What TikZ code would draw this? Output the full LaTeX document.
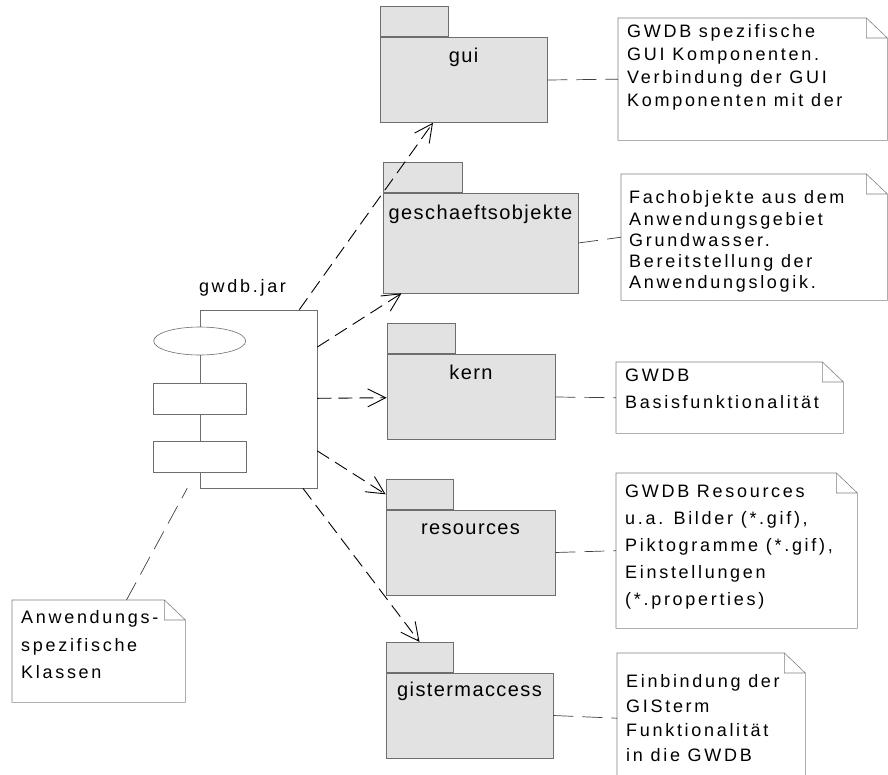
\documentclass[tikz,border=0pt]{standalone}
\usepackage{fontspec}
\setmainfont{Liberation Sans}
\newfontfamily\pkgfont{Liberation Sans}[LetterSpace=7]
\newfontfamily\notefont{Liberation Sans}[LetterSpace=15]
\usepackage{xcolor}
\usepackage{tikz}
\usetikzlibrary{shapes,arrows,arrows.meta,positioning}
\definecolor{pkgfill}{RGB}{226,226,226}
\definecolor{edge}{RGB}{110,110,110}
\definecolor{noteedge}{RGB}{130,130,130}
\newcommand{\nfont}[1]{\notefont\fontsize{18}{#1}\selectfont}

\tikzset{
    pkg/.style={rectangle, draw=edge, fill=pkgfill, line width=.7pt, minimum height=85pt, inner sep=0pt},
    pkgtab/.style={pkg, minimum width=67pt, minimum height=30pt, anchor=south west},
    pkgname/.style={anchor=base, inner sep=0pt, font=\pkgfont\fontsize{20}{24}\selectfont},
    part/.style={draw=edge, fill=white, line width=.6pt, inner sep=0pt},
    notebox/.style={rectangle, anchor=north west, inner sep=0pt,
        append after command={\pgfextra{\draw[draw=noteedge, line width=.6pt]
            (\tikzlastnode.north west) -- ([xshift=-21pt]\tikzlastnode.north east)
            -- ([yshift=-20pt]\tikzlastnode.north east) -- (\tikzlastnode.south east)
            -- (\tikzlastnode.south west) -- cycle
            ([xshift=-21pt]\tikzlastnode.north east) |- ([yshift=-20pt]\tikzlastnode.north east);}}},
    notetext/.style={anchor=north west, inner sep=0pt, align=left},
    dep/.style={draw=black, line width=.9pt, dash pattern=on 14pt off 7pt, -{Straight Barb[length=18pt,width=18pt]}},
    noteline/.style={draw=black!75, line width=.7pt, dash pattern=on 20pt off 9pt}
}

\begin{document}
\begin{tikzpicture}[x=1pt, y=-1pt]
    \path[use as bounding box, fill=white] (0,0) rectangle (888,774);

    \node[part, draw=none, fill=none, minimum width=163pt, minimum height=178pt] (comp) at (235.5,399) {};
    \node[anchor=base, inner sep=0pt, font=\nfont{20}] (jarName) at ([xshift=7pt, yshift=17pt]comp.north) {gwdb.jar};
    \node[part, fill=none, anchor=north east, minimum width=117pt, minimum height=178pt] (jar) at (comp.north east) {};
    \node[part, ellipse, minimum width=92pt, minimum height=28pt, below=17pt of jar.north west] (jarOval) {};
    \node[part, minimum width=93pt, minimum height=31pt, below=28pt of jarOval] (jarBoxA) {};
    \node[part, minimum width=93pt, minimum height=31pt, below=26pt of jarBoxA] (jarBoxB) {};

    \node[pkg, minimum width=167pt] (gui) at (463.5,80) {};
    \node[pkgtab, minimum width=68pt] (guiTab) at (gui.north west) {};
    \node[pkgname] (guiName) at ([yshift=-25pt]gui.north) {gui};

    \node[pkg, minimum width=195pt, minimum height=100pt] (geo) at (480.5,243) {};
    \node[pkgtab, minimum width=79pt] (geoTab) at (geo.north west) {};
    \node[pkgname] (geoName) at ([yshift=-27pt]geo.north) {geschaeftsobjekte};

    \node[pkg, minimum width=168pt] (kern) at (471,397) {};
    \node[pkgtab, minimum width=68pt] (kernTab) at (kern.north west) {};
    \node[pkgname] (kernName) at ([yshift=-25pt]kern.north) {kern};

    \node[pkg, minimum width=169pt] (res) at (470.5,552.5) {};
    \node[pkgtab] (resTab) at (res.north west) {};
    \node[pkgname] (resName) at ([yshift=-25pt]res.north) {resources};

    \node[pkg, minimum width=167pt] (gis) at (469.5,715.5) {};
    \node[pkgtab] (gisTab) at (gis.north west) {};
    \node[pkgname] (gisName) at ([yshift=-24pt]gis.north) {gistermaccess};

    \node[notebox, minimum width=269pt, minimum height=122pt] (guiNote) at (618,18) {};
    \node[notetext, font=\nfont{23}] (guiText) at ([shift={(9pt,-6.5pt)}]guiNote.north west) {GWDB spezifische\\GUI Komponenten.\\Verbindung der GUI\\Komponenten mit der};

    \node[notebox, minimum width=266pt, minimum height=126pt] (geoNote) at (621,174) {};
    \node[notetext, font=\nfont{21.3}] (geoText) at ([shift={(8pt,-16.5pt)}]geoNote.north west) {Fachobjekte aus dem\\Anwendungsgebiet\\Grundwasser.\\Bereitstellung der\\Anwendungslogik.};

    \node[notebox, minimum width=227pt, minimum height=71pt] (kernNote) at (616,362) {};
    \node[notetext, font=\nfont{27}] (kernText) at ([shift={(9pt,-6.5pt)}]kernNote.north west) {GWDB\\Basisfunktionalit\"at};

    \node[notebox, minimum width=241pt, minimum height=155pt] (resNote) at (616,473) {};
    \node[notetext, font=\nfont{27}] (resText) at ([shift={(9pt,-11.5pt)}]resNote.north west) {GWDB Resources\\u.a. Bilder (*.gif),\\Piktogramme (*.gif),\\Einstellungen\\(*.properties)};

    \node[notebox, minimum width=188pt, minimum height=130pt] (gisNote) at (617,653) {};
    \node[notetext, font=\nfont{24.5}] (gisText) at ([shift={(9pt,-21.5pt)}]gisNote.north west) {Einbindung der\\GISterm\\Funktionalit\"at\\in die GWDB};

    \node[notebox, minimum width=173pt, minimum height=102pt] (anwNote) at (12,600) {};
    \node[notetext, font=\nfont{27.5}] (anwText) at ([shift={(9pt,-10.5pt)}]anwNote.north west) {Anwendungs-\\spezifische\\Klassen};

    \draw[dep] (comp) -- (gui);
    \draw[dep] (comp) -- (geo);
    \draw[dep] (comp) -- (kern);
    \draw[dep] (comp) -- (resTab.west);
    \draw[dep] (comp) -- (gisTab.north);

    \draw[noteline] (gui.east) -- (guiNote.west);
    \draw[noteline] (geo.east) -- (geoNote.west);
    \draw[noteline] (kern.east) -- (kernNote.west);
    \draw[noteline] (res.east) -- (resNote.west);
    \draw[noteline] (gis.east) -- (gisNote.west);
    \draw[noteline] (anwNote) -- (comp);
\end{tikzpicture}
\end{document}
